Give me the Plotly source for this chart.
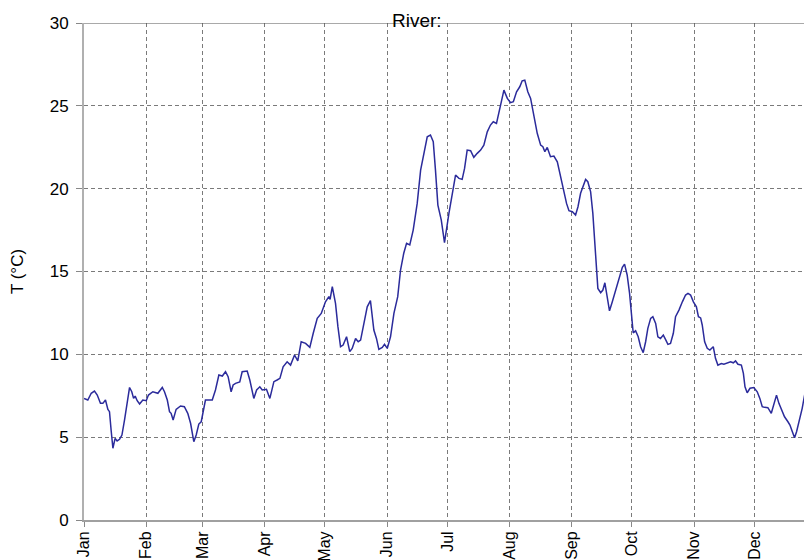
import datetime as dt
import plotly.graph_objects as go

# Day-of-year offsets (from 1 Jan) and river temperature (°C)
day_offsets = [0, 1.9, 3.6, 5.2, 6.6, 8.2, 9.4, 10.7, 11.9, 12.7, 13.5, 14.4, 15.5, 16.5, 17.7, 18.9,
               20.2, 21.5, 22.7, 23.8, 24.7, 25.5, 26.5, 27.7, 29.3, 31, 32.1, 34.3, 36.8, 39, 40.1,
               41.5, 42.6, 43.4, 44.4, 45.9, 48.1, 50, 51.7, 53.1, 54.7, 55.9, 57.2, 58.4, 59.4, 60.5,
               63.9, 65.5, 67.2, 68.9, 70.5, 71.8, 73.3, 74.3, 75.5, 77.6, 78.8, 81.3, 82.6, 84.6, 86,
               87.6, 88.8, 90.9, 92.6, 94.6, 96.2, 97.6, 99.2, 101.2, 102.9, 104.9, 106.5, 108.2, 110.4,
               112.5, 114.2, 116.2, 118.2, 120.3, 122, 122.6, 123.7, 125.3, 126.5, 127.8, 129.1, 130.8,
               132.4, 133.6, 135.3, 136.6, 137.8, 139.4, 141.1, 142.7, 144.4, 145.7, 146.9, 148.6,
               149.7, 151.1, 152.7, 154.4, 156.3, 157.7, 159.3, 160.7, 162.3, 164, 166, 167.7, 169.7,
               171, 172.6, 174, 175.1, 176.3, 178, 179.6, 181.8, 184, 185.1, 186.8, 188.4, 189.6, 190.9,
               192.6, 194.2, 195.9, 197.6, 199.2, 200.9, 202.5, 203.9, 205.5, 207.2, 209.2, 210.9,
               212.5, 213.9, 215.5, 217.1, 218.3, 219.6, 221.1, 222.5, 224.1, 225.8, 227.5, 228.6,
               229.6, 230.8, 232.4, 234.1, 235.8, 237.1, 238.8, 240.4, 241.6, 243.3, 244.9, 246.1,
               247.4, 248.7, 249.9, 251, 252.4, 253.5, 254.9, 256, 257.4, 258.5, 259.5, 260.7, 261.8,
               263.2, 264.5, 265.7, 267, 268.2, 269.3, 270.6, 271.8, 272.8, 273.6, 274.8, 276.1, 277.3,
               278.6, 279.8, 280.9, 282.3, 283.4, 284.8, 285.9, 287.2, 288.6, 289.7, 290.9, 292.2,
               293.6, 294.7, 296.4, 298.1, 299.7, 300.9, 302.2, 303.6, 305.1, 306.1, 307.2, 308, 309.2,
               310.5, 311.8, 313.5, 314.6, 315.8, 317.5, 318.8, 320.5, 322.1, 323.5, 324.6, 325.8,
               327.5, 328.5, 329.3, 330.4, 331.8, 333.7, 335.4, 336.7, 337.9, 339.1, 340.7, 342.4,
               343.7, 345, 346.2, 347.4, 349, 350.7, 351.7, 352.9, 354, 355, 356.2, 357.8, 359, 360]
temperature = [7.34, 7.24, 7.65, 7.78, 7.54, 7.04, 7.04, 7.24, 6.68, 6.54, 5.43, 4.33, 4.93, 4.77, 4.87, 5.13,
               6.04, 7.24, 8.0, 7.74, 7.34, 7.48, 7.2, 7.0, 7.24, 7.2, 7.54, 7.74, 7.65, 8.0, 7.74,
               7.24, 6.54, 6.44, 6.04, 6.68, 6.88, 6.84, 6.44, 5.84, 4.73, 5.13, 5.79, 5.93, 6.64, 7.24,
               7.24, 7.85, 8.75, 8.69, 8.95, 8.65, 7.74, 8.15, 8.25, 8.33, 8.95, 8.99, 8.45, 7.34, 7.85,
               8.04, 7.85, 7.89, 7.34, 8.35, 8.45, 8.55, 9.25, 9.55, 9.35, 9.96, 9.61, 10.76, 10.66,
               10.42, 11.27, 12.17, 12.47, 13.17, 13.48, 13.32, 14.08, 13.08, 11.67, 10.46, 10.56, 11.06,
               10.16, 10.36, 10.96, 10.76, 10.86, 11.87, 12.87, 13.24, 11.47, 10.96, 10.3, 10.42,
               10.6, 10.36, 11.06, 12.47, 13.48, 15.09, 16.1, 16.7, 16.6, 17.5, 19.11, 21.12, 22.33,
               23.13, 23.24, 22.83, 21.12, 19.01, 18.1, 16.74, 18.51, 20.12, 20.82, 20.62, 20.56, 21.22, 22.33,
               22.29, 21.89, 22.13, 22.33, 22.63, 23.43, 23.84, 24.04, 23.94, 24.85, 25.95, 25.45,
               25.19, 25.25, 25.85, 26.15, 26.51, 26.55, 25.85, 25.45, 24.34, 23.34, 22.63, 22.53,
               22.23, 22.49, 21.93, 21.97, 21.62, 20.92, 19.81, 19.11, 18.67, 18.61, 18.41, 18.91,
               19.72, 20.12, 20.56, 20.42, 19.81, 18.51, 16.29, 13.98, 13.72, 13.88, 14.32, 13.48, 12.63,
               13.17, 13.68, 14.28, 14.68, 15.25, 15.45, 14.79, 13.68, 12.07, 11.3, 11.42, 11.06, 10.46,
               10.1, 10.76, 11.57, 12.17, 12.27, 11.87, 11.06, 10.96, 11.16, 10.9, 10.6, 10.66,
               11.27, 12.27, 12.67, 13.17, 13.58, 13.68, 13.58, 13.17, 12.87, 12.27, 12.2, 11.77, 10.76,
               10.36, 10.26, 10.46, 9.76, 9.35, 9.45, 9.4, 9.49, 9.55, 9.49, 9.6, 9.4,
               9.35, 8.85, 8.04, 7.68, 7.95, 8.0, 7.74, 7.34, 6.84, 6.8, 6.78, 6.44,
               6.94, 7.54, 7.04, 6.64, 6.23, 5.93, 5.73, 5.33, 4.97, 5.33, 5.93, 6.74, 7.54, 7.95]

month_labels = ["Jan", "Feb", "Mar", "Apr", "May", "Jun", "Jul", "Aug", "Sep", "Oct", "Nov", "Dec"]
y_ticks = [0, 5, 10, 15, 20, 25, 30]

year = 2001
start = dt.datetime(year, 1, 1)
dates = [start + dt.timedelta(days=d) for d in day_offsets]
month_starts = [dt.datetime(year, m, 1) for m in range(1, 13)]

FONT = "Liberation Sans, Arial, sans-serif"

fig = go.Figure()
fig.add_trace(go.Scatter(x=dates, y=temperature, mode="lines",
                         line=dict(color="#2b2b9b", width=1.5), showlegend=False))

fig.update_layout(
    width=804, height=560,
    margin=dict(l=84, r=0, t=23, b=40),
    paper_bgcolor="white", plot_bgcolor="white",
    font=dict(family=FONT, size=17, color="black"),
    xaxis=dict(
        range=[start, start + dt.timedelta(days=358.7)],
        tickvals=month_starts, ticktext=month_labels, tickangle=-90,
        ticks="outside", ticklen=5, tickcolor="#888", tickwidth=1,
        showgrid=True, gridcolor="#7a7a7a", gridwidth=1, griddash="4px,3px",
        showline=True, linecolor="#a0a0a0", linewidth=2,
        tickfont=dict(size=16), zeroline=False, automargin=False,
        ticklabelstandoff=-2,
    ),
    yaxis=dict(
        range=[0, 30], tickvals=y_ticks,
        ticks="outside", ticklen=6, tickcolor="#888", tickwidth=1,
        showgrid=True, gridcolor="#7a7a7a", gridwidth=1, griddash="4px,3px",
        showline=True, linecolor="#b0b0b0", linewidth=2,
        tickfont=dict(size=17), zeroline=False, automargin=False,
        ticklabelstandoff=4,
        title=dict(text="T (°C)", font=dict(size=17), standoff=22),
    ),
    shapes=[dict(type="line", xref="paper", yref="y", x0=0, x1=1, y0=30, y1=30,
                 line=dict(color="#555555", width=1.2))],
    annotations=[dict(text="River:", xref="paper", yref="paper",
                      x=(417 - 84) / 720, y=1 + (23 - 20.5) / 497,
                      xanchor="center", yanchor="middle", showarrow=False,
                      font=dict(size=19, family=FONT, color="black"))],
)

fig.write_html("out.html", config={"displayModeBar": False},
               post_script="document.body.style.margin='0';")
